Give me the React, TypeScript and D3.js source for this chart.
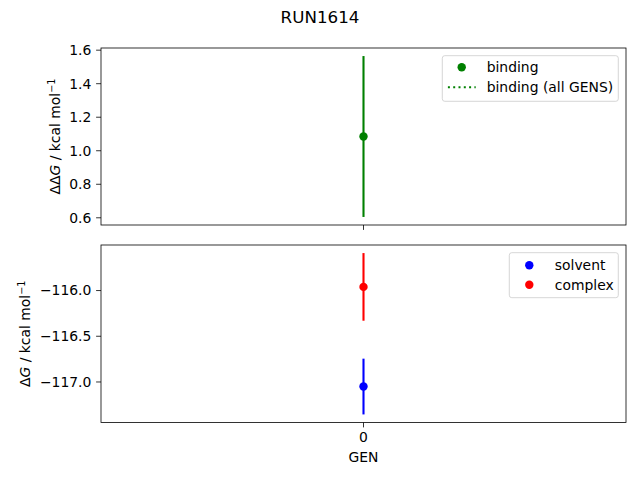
import { useEffect } from 'react'
import * as d3 from 'd3'

// values
const gens = [0]
const binding = [1.085]
const bindingErr = [0.48]
const solvent = [-117.05]
const solventErr = [0.305]
const complexVals = [-115.96]
const complexErr = [0.37]

const W = 640
const H = 480
const FONT = 'DejaVu Sans, sans-serif'
const FS = 13.9
const left = 101
const right = 626
const top1 = [48, 225]
const top2 = [245, 422.5]

// matplotlib-like autoscale: data extent + 5% margin
const padExtent = (lo: number, hi: number): [number, number] => {
  const m = (hi - lo) * 0.05
  return [lo - m, hi + m]
}

export default function App() {
  useEffect(() => {
    document.body.style.margin = '0'
  }, [])

  const x = d3.scaleLinear().domain([-0.055, 0.055]).range([left, right])

  const lo1 = d3.min(binding, (d, i) => d - bindingErr[i])!
  const hi1 = d3.max(binding, (d, i) => d + bindingErr[i])!
  const y1 = d3.scaleLinear().domain(padExtent(lo1, hi1)).range([top1[1], top1[0]])

  const lo2 = Math.min(
    d3.min(solvent, (d, i) => d - solventErr[i])!,
    d3.min(complexVals, (d, i) => d - complexErr[i])!
  )
  const hi2 = Math.max(
    d3.max(solvent, (d, i) => d + solventErr[i])!,
    d3.max(complexVals, (d, i) => d + complexErr[i])!
  )
  const y2 = d3.scaleLinear().domain(padExtent(lo2, hi2)).range([top2[1], top2[0]])

  const fmt = d3.format('.1f')
  const xTicks = gens

  const yAxis = (y: d3.ScaleLinear<number, number>) =>
    y.ticks(5).map(t => (
      <g key={t} transform={`translate(${left},${y(t)})`}>
        <line x1={-4.9} x2={0} stroke="#000" strokeWidth={0.8} />
        <text x={-9.7} dy="0.35em" textAnchor="end" fontSize={FS}>{fmt(t)}</text>
      </g>
    ))

  const frame = (yr: number[]) => (
    <rect x={left} y={yr[0]} width={right - left} height={yr[1] - yr[0]}
      fill="none" stroke="#000" strokeWidth={0.8} />
  )

  const errPoint = (cx: number, cy: number, ylo: number, yhi: number, color: string, key: string) => (
    <g key={key}>
      <line x1={cx} x2={cx} y1={ylo} y2={yhi} stroke={color} strokeWidth={2.1} />
      <circle cx={cx} cy={cy} r={4.2} fill={color} />
    </g>
  )

  return (
    <svg width={W} height={H} style={{ position: 'absolute', left: 0, top: 0, background: '#fff' }}
      fontFamily={FONT} fill="#000">
      <rect width={W} height={H} fill="#fff" />
      <text x={W / 2} y={17} dy="0.35em" textAnchor="middle" fontSize={16.7}>RUN1614</text>

      {/* top panel: binding */}
      {binding.map((d, i) =>
        errPoint(x(gens[i]), y1(d), y1(d - bindingErr[i]), y1(d + bindingErr[i]), 'green', `b${i}`)
      )}
      {frame(top1)}
      {yAxis(y1)}
      {xTicks.map(t => (
        <line key={t} x1={x(t)} x2={x(t)} y1={top1[1]} y2={top1[1] + 4.9} stroke="#000" strokeWidth={0.8} />
      ))}
      <text transform={`translate(55,${(top1[0] + top1[1]) / 2}) rotate(-90)`} textAnchor="middle"
        dy="0.35em" fontSize={FS}>
        ΔΔ<tspan fontStyle="italic">G</tspan> / kcal mol<tspan dy={-5} fontSize={9.7}>−1</tspan>
      </text>
      <g transform="translate(442.3,55.7)">
        <rect width={176} height={45.6} rx={2.5} fill="#fff" fillOpacity={0.8} stroke="#ccc" strokeWidth={0.8} />
        <circle cx={19.4} cy={11.6} r={4.2} fill="green" />
        <text x={44.4} y={11.6} dy="0.35em" fontSize={FS}>binding</text>
        <line x1={5.6} x2={33.4} y1={31.6} y2={31.6} stroke="green" strokeWidth={2.1} strokeDasharray="2,3.3" />
        <text x={44.4} y={31.6} dy="0.35em" fontSize={FS}>binding (all GENS)</text>
      </g>

      {/* bottom panel: solvent / complex */}
      {solvent.map((d, i) =>
        errPoint(x(gens[i]), y2(d), y2(d - solventErr[i]), y2(d + solventErr[i]), 'blue', `s${i}`)
      )}
      {complexVals.map((d, i) =>
        errPoint(x(gens[i]), y2(d), y2(d - complexErr[i]), y2(d + complexErr[i]), 'red', `c${i}`)
      )}
      {frame(top2)}
      {yAxis(y2)}
      {xTicks.map(t => (
        <g key={t} transform={`translate(${x(t)},${top2[1]})`}>
          <line y2={4.9} stroke="#000" strokeWidth={0.8} />
          <text y={15} dy="0.35em" textAnchor="middle" fontSize={FS}>{t}</text>
        </g>
      ))}
      <text x={(left + right) / 2} y={457} dy="0.35em" textAnchor="middle" fontSize={FS}>GEN</text>
      <text transform={`translate(25,${(top2[0] + top2[1]) / 2}) rotate(-90)`} textAnchor="middle"
        dy="0.35em" fontSize={FS}>
        Δ<tspan fontStyle="italic">G</tspan> / kcal mol<tspan dy={-5} fontSize={9.7}>−1</tspan>
      </text>
      <g transform="translate(509.3,252.7)">
        <rect width={109} height={45} rx={2.5} fill="#fff" fillOpacity={0.8} stroke="#ccc" strokeWidth={0.8} />
        <circle cx={20} cy={12.6} r={4.2} fill="blue" />
        <text x={45.5} y={12.6} dy="0.35em" fontSize={FS}>solvent</text>
        <circle cx={20} cy={32} r={4.2} fill="red" />
        <text x={45.5} y={32} dy="0.35em" fontSize={FS}>complex</text>
      </g>
    </svg>
  )
}
